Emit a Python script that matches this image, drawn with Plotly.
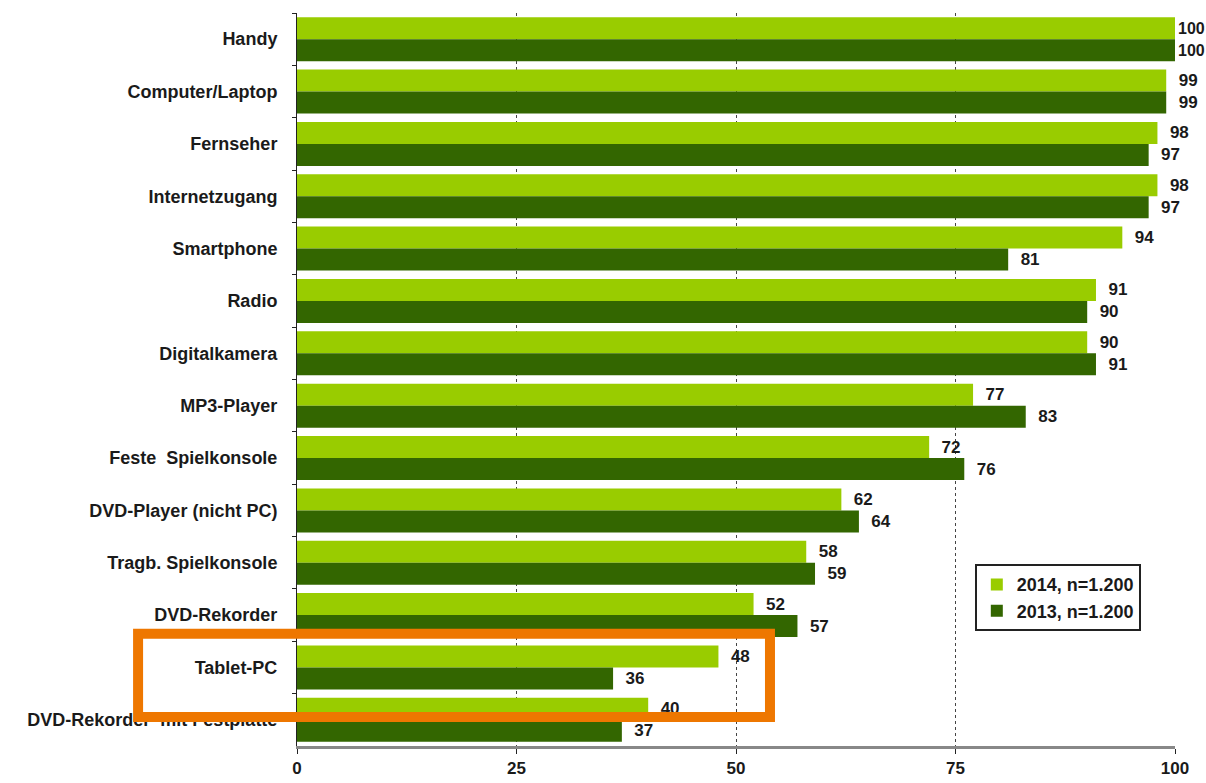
import plotly.graph_objects as go

categories = ["Handy", "Computer/Laptop", "Fernseher", "Internetzugang", "Smartphone", "Radio",
              "Digitalkamera", "MP3-Player", "Feste  Spielkonsole", "DVD-Player (nicht PC)",
              "Tragb. Spielkonsole", "DVD-Rekorder", "Tablet-PC", "DVD-Rekorder  mit Festplatte"]
values_2014 = [100, 99, 98, 98, 94, 91, 90, 77, 72, 62, 58, 52, 48, 40]
values_2013 = [100, 99, 97, 97, 81, 90, 91, 83, 76, 64, 59, 57, 36, 37]
series_names = ["2014, n=1.200", "2013, n=1.200"]
x_ticks = [0, 25, 50, 75, 100]

FONT = "Liberation Sans, Arial"
TXT = "#1a1a1a"


def labels(vals):
    return [("" if v >= 100 else "  ") + str(v) for v in vals]


def label_sizes(vals):
    return [16 if v >= 100 else 17 for v in vals]


fig = go.Figure()
fig.add_trace(go.Bar(y=categories, x=values_2014, name=series_names[0], orientation="h",
                     marker=dict(color="#99CC00", line=dict(width=0)),
                     text=labels(values_2014), textposition="outside", cliponaxis=False,
                     textfont=dict(family=FONT, size=label_sizes(values_2014), color=TXT,
                                   weight="bold")))
fig.add_trace(go.Bar(y=categories, x=values_2013, name=series_names[1], orientation="h",
                     marker=dict(color="#336600", line=dict(width=0)),
                     text=labels(values_2013), textposition="outside", cliponaxis=False,
                     textfont=dict(family=FONT, size=label_sizes(values_2013), color=TXT,
                                   weight="bold")))

fig.update_layout(
    width=1206, height=783,
    margin=dict(l=297, r=31, t=13, b=37, autoexpand=False),
    paper_bgcolor="white", plot_bgcolor="white",
    barmode="group", bargap=0.16, bargroupgap=0,
    font=dict(family=FONT, size=17, color=TXT, weight="bold"),
    xaxis=dict(range=[0, 100], tickvals=x_ticks, showgrid=True, gridcolor="#444", griddash="dot",
               gridwidth=1, showline=True, linecolor="#888", linewidth=3, ticks="outside",
               ticklen=5, tickcolor="#222", zeroline=False, automargin=False,
               tickfont=dict(family=FONT, size=17, color=TXT, weight="bold")),
    yaxis=dict(autorange="reversed", showline=True, linecolor="#222", linewidth=1,
               ticks="outside", tickson="boundaries", ticklen=4, tickcolor="#222",
               automargin=False,
               ticksuffix="   ", tickfont=dict(family=FONT, size=18, color=TXT, weight="bold")),
    legend=dict(x=0.772, y=0.248, xanchor="left", yanchor="top", bordercolor="#222",
                borderwidth=2, bgcolor="white",
                font=dict(family=FONT, size=18, color=TXT, weight="bold"),
                itemwidth=30, tracegroupgap=12),
    showlegend=True,
)

fig.add_shape(type="rect", xref="paper", yref="paper",
              x0=-0.181, x1=0.5387, y0=0.0396, y1=0.153,
              line=dict(color="#EE7700", width=10), fillcolor="rgba(0,0,0,0)", layer="above")

fig.write_html("out.html")
